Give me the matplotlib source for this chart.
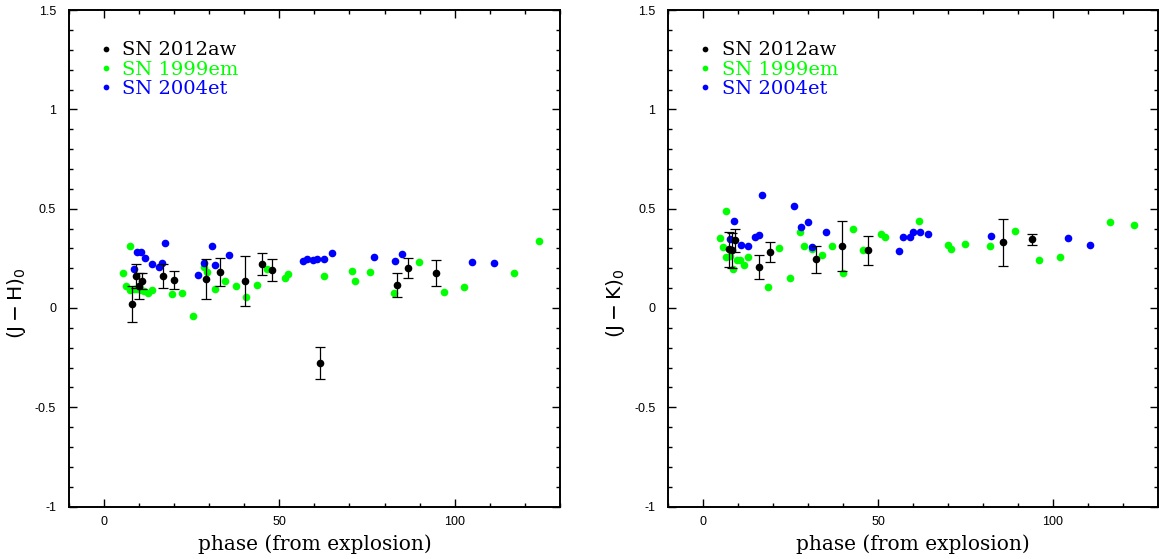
import matplotlib
matplotlib.use("Agg")
import matplotlib.pyplot as plt
from matplotlib.ticker import MultipleLocator, FuncFormatter

plt.rcParams["mathtext.fontset"] = "dejavuserif"
plt.rcParams["axes.unicode_minus"] = False

# (J-H)_0 colours
jh_aw_phase = [8.0, 9.1, 10.0, 11.0, 16.8, 19.9, 29.2, 33.1, 40.3, 45.1, 47.9, 61.5, 83.6, 86.7, 94.7]
jh_aw = [0.02, 0.16, 0.11, 0.135, 0.16, 0.14, 0.145, 0.18, 0.135, 0.22, 0.19, -0.275, 0.115, 0.20, 0.175]
jh_aw_err = [0.09, 0.06, 0.065, 0.04, 0.06, 0.045, 0.10, 0.07, 0.125, 0.055, 0.055, 0.08, 0.06, 0.05, 0.065]

jh_em_phase = [5.5, 6.3, 7.5, 7.5, 8.5, 9.5, 10.6, 11.5, 12.5, 13.6, 19.5, 22.4, 25.5, 28.5, 29.5,
               31.6, 34.6, 37.6, 40.6, 43.6, 46.4, 51.5, 52.6, 62.6, 70.7, 71.7, 75.8, 82.7, 89.9,
               96.8, 102.7, 116.9, 124.0]
jh_em = [0.175, 0.11, 0.31, 0.089, 0.095, 0.094, 0.089, 0.085, 0.075, 0.089, 0.068, 0.073, -0.042,
         0.206, 0.181, 0.095, 0.136, 0.109, 0.053, 0.115, 0.198, 0.151, 0.173, 0.163, 0.184, 0.136,
         0.179, 0.077, 0.23, 0.082, 0.104, 0.176, 0.337]

jh_et_phase = [8.5, 9.5, 10.6, 11.7, 13.7, 15.7, 16.6, 17.5, 26.7, 28.6, 30.7, 31.6, 35.6, 56.8,
               57.9, 59.7, 60.8, 62.8, 65.0, 76.9, 83.1, 85.0, 105.0, 111.2]
jh_et = [0.195, 0.284, 0.28, 0.252, 0.22, 0.208, 0.226, 0.327, 0.166, 0.226, 0.31, 0.215, 0.265,
         0.237, 0.247, 0.242, 0.249, 0.245, 0.275, 0.255, 0.236, 0.274, 0.233, 0.225]

# (J-K)_0 colours
jk_aw_phase = [7.3, 8.4, 9.1, 16.0, 19.1, 32.4, 39.6, 47.2, 85.8, 93.9]
jk_aw = [0.295, 0.29, 0.34, 0.205, 0.28, 0.245, 0.31, 0.29, 0.33, 0.345]
jk_aw_err = [0.09, 0.09, 0.06, 0.06, 0.05, 0.067, 0.126, 0.072, 0.117, 0.03]

jk_em_phase = [4.8, 5.6, 6.6, 6.6, 7.8, 8.7, 9.8, 10.7, 11.8, 12.8, 18.7, 21.7, 24.9, 27.8, 28.8,
               31.1, 33.9, 36.8, 39.9, 42.8, 45.8, 50.9, 51.9, 61.8, 70.0, 70.9, 75.0, 82.0, 89.1,
               96.1, 102.1, 116.2, 123.2]
jk_em = [0.354, 0.307, 0.488, 0.257, 0.26, 0.195, 0.243, 0.243, 0.218, 0.257, 0.107, 0.30, 0.153,
         0.381, 0.31, 0.299, 0.265, 0.31, 0.176, 0.40, 0.294, 0.374, 0.357, 0.437, 0.316, 0.295,
         0.32, 0.314, 0.388, 0.243, 0.255, 0.433, 0.416]

jk_et_phase = [7.8, 8.8, 10.8, 12.9, 14.8, 15.9, 16.8, 26.0, 27.9, 30.0, 31.0, 35.0, 56.1, 57.2,
               59.0, 60.0, 62.0, 64.2, 82.3, 104.3, 110.5]
jk_et = [0.346, 0.438, 0.316, 0.31, 0.356, 0.367, 0.571, 0.514, 0.408, 0.431, 0.305, 0.385, 0.285,
         0.357, 0.356, 0.381, 0.385, 0.374, 0.364, 0.352, 0.319]

GREEN = "#00ff00"
BLUE = "#0000ff"
SERIF = "DejaVu Serif"


def panel(ax, aw, em, et, ylabel):
    ax.plot(em[0], em[1], "o", color=GREEN, ms=5.5, mew=0, zorder=2, label="SN 1999em")
    ax.plot(et[0], et[1], "o", color=BLUE, ms=5.5, mew=0, zorder=3, label="SN 2004et")
    ax.errorbar(aw[0], aw[1], yerr=aw[2], fmt="none", ecolor="black", elinewidth=0.9,
                capsize=3.5, capthick=0.9, zorder=4)
    ax.plot(aw[0], aw[1], "o", color="black", ms=5.5, mew=0, zorder=5, label="SN 2012aw")

    ax.set_xlim(-10, 130)
    ax.set_ylim(-1, 1.5)
    ax.xaxis.set_major_locator(MultipleLocator(50))
    ax.xaxis.set_minor_locator(MultipleLocator(10))
    ax.yaxis.set_major_locator(MultipleLocator(0.5))
    ax.yaxis.set_minor_locator(MultipleLocator(0.1))
    ax.yaxis.set_major_formatter(FuncFormatter(lambda v, p: f"{v:g}"))
    ax.tick_params(which="both", direction="in", top=True, right=True, width=1.0)
    ax.tick_params(which="major", length=5.5)
    ax.tick_params(which="minor", length=2.8)
    ax.tick_params(axis="x", pad=7)
    ax.tick_params(axis="y", pad=9)
    for lab in ax.get_xticklabels() + ax.get_yticklabels():
        lab.set_fontfamily("Liberation Sans")
        lab.set_fontsize(9)
    for s in ax.spines.values():
        s.set_linewidth(1.4)

    ax.set_xlabel("phase (from explosion)", family=SERIF, fontsize=14.5, labelpad=4)
    ax.set_ylabel(ylabel, fontsize=14.5)
    ax.yaxis.set_label_coords(-0.083, 0.41)

    h, l = ax.get_legend_handles_labels()
    order = [2, 0, 1]
    ax.legend([h[i] for i in order], [l[i] for i in order], loc="upper left",
              bbox_to_anchor=(0.03, 0.972), frameon=False, handlelength=0.5,
              handletextpad=0.6, labelspacing=0.06, markerscale=0.75,
              labelcolor="markerfacecolor", prop={"family": SERIF, "size": 14})


fig = plt.figure(figsize=(11.59, 5.59), dpi=100)
ax1 = fig.add_axes([0.0593, 0.0937, 0.4239, 0.8883])
ax2 = fig.add_axes([0.5764, 0.0937, 0.4227, 0.8883])

panel(ax1, (jh_aw_phase, jh_aw, jh_aw_err), (jh_em_phase, jh_em), (jh_et_phase, jh_et),
      r"$\mathregular{(J-H)_0}$")
panel(ax2, (jk_aw_phase, jk_aw, jk_aw_err), (jk_em_phase, jk_em), (jk_et_phase, jk_et),
      r"$\mathregular{(J-K)_0}$")

fig.savefig("out.png", dpi=100)
